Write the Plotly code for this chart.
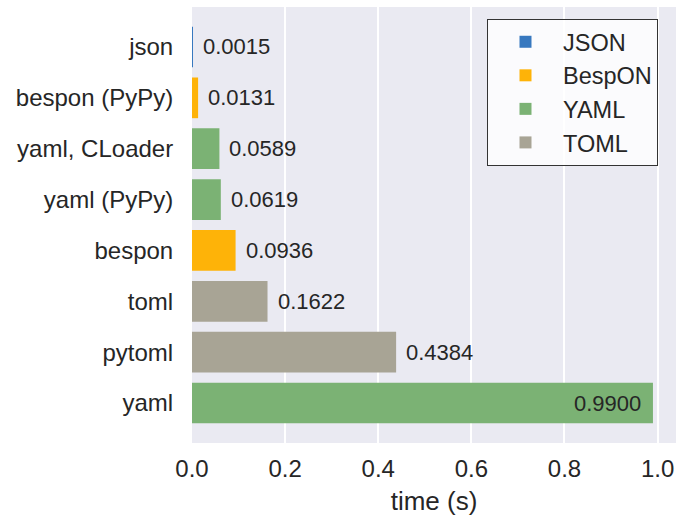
import plotly.graph_objects as go

categories = ["json", "bespon (PyPy)", "yaml, CLoader", "yaml (PyPy)",
              "bespon", "toml", "pytoml", "yaml"]
times = [0.0015, 0.0131, 0.0589, 0.0619, 0.0936, 0.1622, 0.4384, 0.9900]
formats = ["JSON", "BespON", "YAML", "YAML", "BespON", "TOML", "TOML", "YAML"]

legend_order = ["JSON", "BespON", "YAML", "TOML"]
colors = {"JSON": "#3778bf", "BespON": "#feb308",
          "YAML": "#7bb274", "TOML": "#a8a495"}
x_ticks = [0.0, 0.2, 0.4, 0.6, 0.8, 1.0]

FONT = "Liberation Sans, Arial, sans-serif"
TXT = "#262626"

fig = go.Figure()
for i, f in enumerate(legend_order):
    ys = [c for c, g in zip(categories, formats) if g == f]
    xs = [t for t, g in zip(times, formats) if g == f]
    fig.add_trace(go.Bar(
        x=xs, y=ys, orientation="h", name=f, width=0.8,
        marker=dict(color=colors[f], line=dict(width=0)),
        legendgroup=f, hoverinfo="x+y",
    ))

xmax = max(times) * 1.05
for c, t in zip(categories, times):
    inside = t > 0.9 * max(times)
    fig.add_annotation(
        x=t, y=c, text=f"{t:.4f}", showarrow=False,
        xanchor="right" if inside else "left",
        xshift=-10 if inside else 8,
        font=dict(family=FONT, size=22, color=TXT),
    )

fig.update_layout(
    width=684, height=516,
    margin=dict(l=192, r=8, t=7, b=73, autoexpand=False),
    paper_bgcolor="white", plot_bgcolor="#eaeaf2",
    barmode="overlay",
    font=dict(family=FONT, color=TXT),
    showlegend=True,
    legend=dict(
        x=0.6095, y=0.9725, xanchor="left", yanchor="top",
        bgcolor="rgba(255,255,255,0.8)", bordercolor="#333333", borderwidth=1,
        font=dict(family=FONT, size=23.5, color=TXT),
        traceorder="grouped", tracegroupgap=0,
        itemwidth=65,
    ),
    xaxis=dict(
        range=[0, xmax], tickvals=x_ticks, ticktext=[f"{v:.1f}" for v in x_ticks],
        showgrid=True, gridcolor="white", gridwidth=2, zeroline=False,
        showline=False, ticks="outside", ticklen=4, tickcolor="rgba(0,0,0,0)",
        tickfont=dict(family=FONT, size=24, color=TXT),
        automargin=False,
        title=dict(text="time (s)", font=dict(family=FONT, size=26, color=TXT),
                   standoff=12),
    ),
    yaxis=dict(
        type="category", categoryorder="array", categoryarray=categories,
        range=[len(categories) - 1 + 0.786, -0.786],
        showgrid=False, zeroline=False, showline=False,
        ticks="outside", ticklen=13, tickcolor="rgba(0,0,0,0)",
        tickfont=dict(family=FONT, size=24, color=TXT),
        automargin=False,
    ),
)

fig.write_html("out.html", config={"displayModeBar": False},
               post_script="document.body.style.margin='0';document.body.style.overflow='hidden';")
